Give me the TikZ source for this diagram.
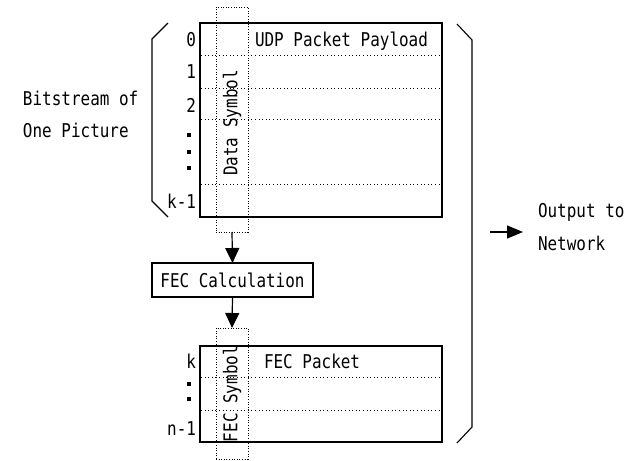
\documentclass[tikz,border=0pt]{standalone}
\usepackage{fontspec}
\setmainfont{DejaVu Sans Mono}[FakeStretch=0.84]
\usetikzlibrary{arrows.meta}
\begin{document}
\begin{tikzpicture}[x=1pt,y=-1pt,
  every node/.style={inner sep=0pt,outer sep=0pt,font=\fontsize{19}{22}\selectfont},
  frame/.style={draw,line width=1.1pt,rectangle},
  symcol/.style={draw,rectangle,line width=1pt,dash pattern=on 1pt off 1.6pt},
  rowline/.style={line width=1pt,dash pattern=on 1pt off 2.6pt},
  brk/.style={line width=1.1pt},
  flow/.style={line width=1.2pt,-{Triangle[length=15pt,width=14pt]}},
  lbl/.style={anchor=base west},
  num/.style={anchor=base east},
  dot/.style={fill,rectangle,minimum size=3.4pt}
]
\useasboundingbox (0,0) rectangle (633,461);
% top box
\node[frame,minimum width=242pt,minimum height=194pt] (top) at (321,120) {};
\foreach \yy in {55,88,119,184} \draw[rowline] (201,\yy) -- (441,\yy);
\node[symcol,minimum width=32pt,minimum height=225pt] (dcol) at (232,119.5) {};
\node[rotate=90] (dtxt) at (232,123) {Data Symbol};
\node[lbl] (udp) at (255,46.5) {UDP Packet Payload};
\node[num] (n0) at (196,46.5) {0};
\node[num] (n1) at (196,78) {1};
\node[num] (n2) at (196,112) {2};
\node[dot] (d1) at (189,135) {};
\node[dot] (d2) at (189,152) {};
\node[dot] (d3) at (189,168) {};
\node[num] (nk1) at (196,208) {k-1};
% left paren
\coordinate (lp1) at (168,23);
\coordinate (lp2) at (152,39);
\coordinate (lp3) at (152,201);
\coordinate (lp4) at (168,217);
\draw[brk] (lp1) -- (lp2) -- (lp3) -- (lp4);
\node[lbl] (bs1) at (23,105) {Bitstream of};
\node[lbl] (bs2) at (23,137) {One Picture};
% FEC calc
\node[frame,minimum width=161pt,minimum height=34pt] (fec) at (232.5,280) {};
\node[anchor=base] (fectxt) at (232.5,287) {FEC Calculation};
% bottom box
\node[frame,minimum width=242pt,minimum height=96pt] (bot) at (321,394) {};
\foreach \yy in {377,410} \draw[rowline] (201,\yy) -- (441,\yy);
\node[symcol,minimum width=32pt,minimum height=131pt] (fcol) at (232,393.5) {};
\node[rotate=90] (ftxt) at (232,394) {FEC Symbol};
\node[lbl] (fecp) at (264,368) {FEC Packet};
\node[num] (nk) at (196,368) {k};
\node[dot] (e1) at (189,384) {};
\node[dot] (e2) at (189,399) {};
\node[num] (nn1) at (196,435) {n-1};
% arrows
\draw[flow] (dcol.south) -- (fec.north);
\draw[flow] (fec.south) -- (fcol.north);
% right bracket
\coordinate (rp1) at (457,24);
\coordinate (rp2) at (472,40);
\coordinate (rp3) at (472,427);
\coordinate (rp4) at (457,443);
\draw[brk] (rp1) -- (rp2) -- (rp3) -- (rp4);
% output
\coordinate (oa) at (490,232);
\coordinate (ob) at (523,232);
\draw[line width=1.3pt,-{Triangle[length=16pt,width=13pt]}] (oa) -- (ob);
\node[lbl] (out1) at (538,217) {Output to};
\node[lbl] (out2) at (538,250) {Network};
\end{tikzpicture}
\end{document}
